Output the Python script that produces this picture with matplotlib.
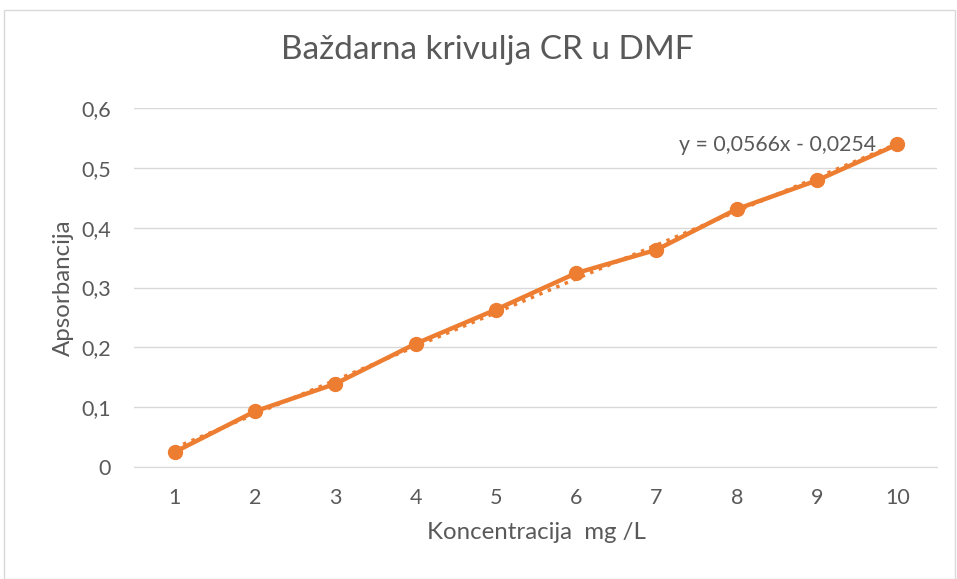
import numpy as np
import matplotlib.pyplot as plt
from matplotlib.patches import Rectangle

konc = [1, 2, 3, 4, 5, 6, 7, 8, 9, 10]
apsorbancija = [0.025, 0.093, 0.139, 0.206, 0.263, 0.324, 0.363, 0.431, 0.479, 0.539]
y_ticks = [0, 0.1, 0.2, 0.3, 0.4, 0.5, 0.6]
y_labels = ['0', '0,1', '0,2', '0,3', '0,4', '0,5', '0,6']
eq_text = 'y = 0,0566x - 0,0254'

plt.rcParams['font.family'] = ['Lato', 'DejaVu Sans']
orange = '#ED7D31'
grey_txt = '#595959'

fig = plt.figure(figsize=(9.57, 5.79), dpi=100)
fig.patches.append(Rectangle((4 / 957, 0), 951 / 957, 569 / 579, transform=fig.transFigure,
                             fill=False, edgecolor='#d9d9d9', linewidth=1))
ax = fig.add_axes([0.1405, 0.1934, 0.8391, 0.6201])

# trendline (linear fit)
k, n = np.polyfit(konc, apsorbancija, 1)
xs = np.array([konc[0], konc[-1]])
ax.plot(xs, k * xs + n, linestyle=':', color=orange, linewidth=2.5, zorder=2)

ax.plot(konc, apsorbancija, color=orange, linewidth=3.2, marker='o', markersize=10, zorder=3)

ax.text(8.51, 0.538, eq_text, ha='center', va='center', fontsize=15.3, color=grey_txt)

ax.set_xlim(0.5, 10.5)
ax.set_ylim(0, 0.6)
ax.set_xticks(konc)
ax.set_yticks(y_ticks)
ax.set_yticklabels(y_labels)
ax.tick_params(axis='both', length=0, labelsize=15.5, labelcolor=grey_txt)
ax.tick_params(axis='x', pad=15)
ax.tick_params(axis='y', pad=17)
ax.grid(axis='y', color='#d9d9d9', linewidth=1)
ax.set_axisbelow(True)
for s in ['top', 'right', 'left']:
    ax.spines[s].set_visible(False)
ax.spines['bottom'].set_color('#d9d9d9')

ax.set_xlabel('Koncentracija  mg /L', fontsize=17.3, color=grey_txt, labelpad=10)
ax.set_ylabel('Apsorbancija', fontsize=17.3, color=grey_txt, labelpad=5)
fig.text(487 / 957, 1 - 50 / 579, 'Baždarna krivulja CR u DMF', ha='center', va='center',
         fontsize=24, color=grey_txt)

fig.savefig('out.png')
